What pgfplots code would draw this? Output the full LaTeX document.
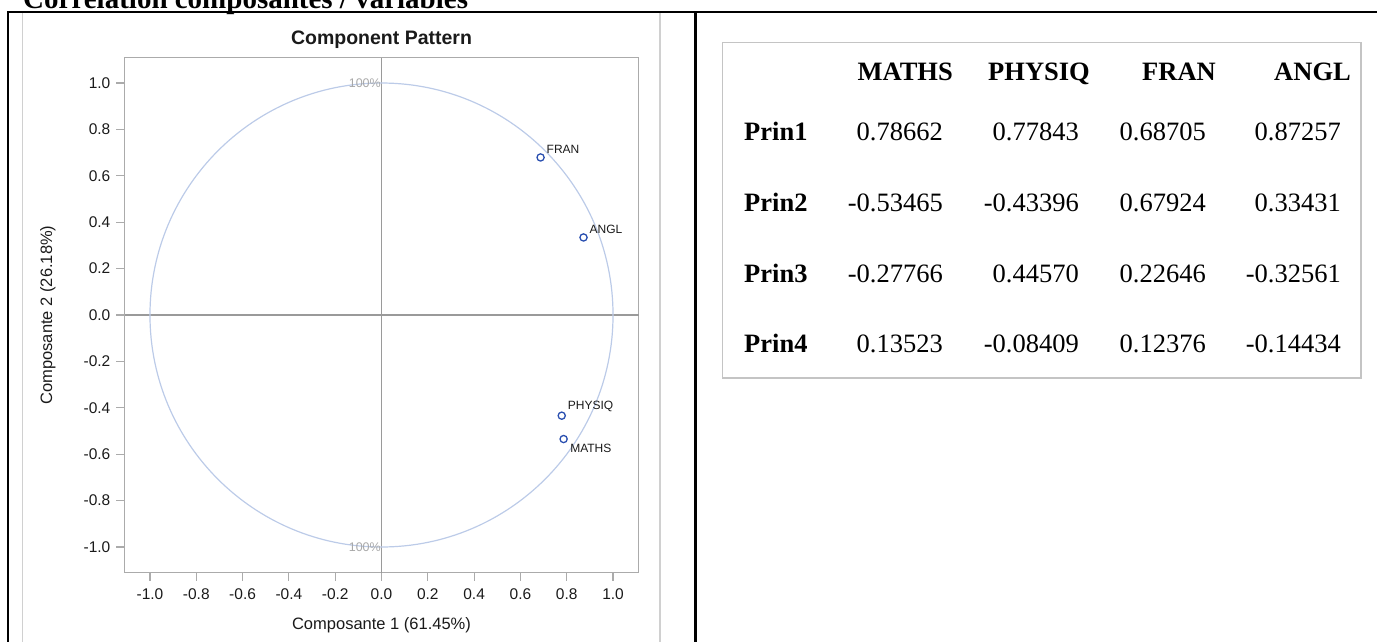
\documentclass[border=0pt]{standalone}
\usepackage{pgfplots}
\pgfplotsset{compat=1.18}
\usepackage{fontspec}
\setmainfont{Liberation Serif}
\newfontfamily\sasfont{Liberation Sans}
\definecolor{axisgray}{HTML}{ABABAB}
\definecolor{refgray}{HTML}{9A9A9A}
\definecolor{circblue}{HTML}{BCCBE8}
\definecolor{markblue}{HTML}{2B50B0}
\definecolor{framegray}{HTML}{D0D0D0}
\definecolor{tablegray}{HTML}{C4C4C4}
\definecolor{pctgray}{HTML}{A8A8A8}
\definecolor{txt}{HTML}{1A1A1A}

\pgfplotstableread{
x y lab
0.68705 0.67924 FRAN
0.87257 0.33431 ANGL
0.77843 -0.43396 PHYSIQ
}\uppertab
\pgfplotstableread{
x y lab
0.78662 -0.53465 MATHS
}\lowertab

\begin{document}
\begin{tikzpicture}
\path[use as bounding box] (0pt,0pt) rectangle (1377pt,-641pt);
% document title (cut at the top)
\node[anchor=base west, inner sep=0pt, font=\bfseries\fontsize{29}{31}\selectfont] at (23pt,-8pt) {Correlation composantes / variables};
% black frame
\draw[black, line width=2.2pt] (8pt,-660pt) -- (8pt,-12pt) -- (1380pt,-12pt);
\draw[black, line width=2.2pt] (695.5pt,-12pt) -- (695.5pt,-660pt);
% graph outer border
\draw[framegray, line width=1.5pt] (22.7pt,-13pt) -- (22.7pt,-660pt);
\draw[framegray, line width=1.5pt] (660pt,-13pt) -- (660pt,-660pt);
% graph title
\node[font=\sasfont\bfseries\fontsize{19.5}{21}\selectfont, text=txt] at (381.5pt,-39.5pt) {Component Pattern};

\begin{axis}[
  at={(124.5pt,-572.5pt)}, anchor=south west,
  scale only axis, width=514pt, height=515pt,
  xmin=-1.11, xmax=1.11, ymin=-1.11, ymax=1.11,
  xtick={-1,-0.8,-0.6,-0.4,-0.2,0,0.2,0.4,0.6,0.8,1},
  ytick={-1,-0.8,-0.6,-0.4,-0.2,0,0.2,0.4,0.6,0.8,1},
  tick pos=left, tick align=outside, major tick length=8pt,
  axis line style={draw=axisgray, line width=1.3pt},
  every tick/.style={draw=axisgray, line width=1.1pt},
  tick label style={font=\sasfont\fontsize{15.5}{16}\selectfont, text=txt},
  /pgf/number format/fixed, /pgf/number format/fixed zerofill,
  /pgf/number format/precision=1, /pgf/number format/assume math mode=true,
  xticklabel style={anchor=center, inner sep=0pt, yshift=-14pt},
  yticklabel style={anchor=east, inner sep=0pt, xshift=-6pt},
  xlabel={Composante 1 (61.45\%)}, ylabel={Composante 2 (26.18\%)},
  every axis x label/.style={at={(axis description cs:0.5,-0.102)}, anchor=center},
  every axis y label/.style={at={(axis description cs:-0.149,0.5)}, anchor=center, rotate=90},
  label style={font=\sasfont\fontsize{16.5}{18}\selectfont, text=txt},
  clip=false,
]
\draw[refgray, line width=1.2pt] (axis cs:0,-1.11) -- (axis cs:0,1.11);
\draw[refgray, line width=1.2pt] (axis cs:-1.11,0) -- (axis cs:1.11,0);
\draw[circblue, line width=1.2pt] (axis cs:0,0) ellipse [x radius=1, y radius=1];
\node[anchor=east, inner sep=0pt, xshift=-0.5pt, text=pctgray, font=\sasfont\fontsize{12.5}{13}\selectfont] at (axis cs:0,1) {100\%};
\node[anchor=east, inner sep=0pt, xshift=-0.5pt, text=pctgray, font=\sasfont\fontsize{12.5}{13}\selectfont] at (axis cs:0,-1) {100\%};
\addplot[only marks, mark=o, mark size=3.6pt, draw=markblue, mark options={line width=1.3pt},
  nodes near coords, point meta=explicit symbolic,
  every node near coord/.style={anchor=south west, inner sep=0pt, xshift=5.5pt, yshift=3pt,
    font=\sasfont\fontsize{12}{12}\selectfont, text=txt}]
  table[x=x, y=y, meta=lab] {\uppertab};
\addplot[only marks, mark=o, mark size=3.6pt, draw=markblue, mark options={line width=1.3pt},
  nodes near coords, point meta=explicit symbolic,
  every node near coord/.style={anchor=north west, inner sep=0pt, xshift=6pt, yshift=-4pt,
    font=\sasfont\fontsize{12}{12}\selectfont, text=txt}]
  table[x=x, y=y, meta=lab] {\lowertab};
\end{axis}

% table on the right
\draw[tablegray, line width=1.6pt] (722.5pt,-42.5pt) rectangle (1361pt,-378pt);
\begin{scope}[every node/.style={inner sep=0pt, font=\fontsize{26.5}{28}\selectfont}]
  \node[anchor=base east, font=\bfseries\fontsize{26.5}{28}\selectfont] at (953pt,-80pt) {MATHS};
  \node[anchor=base east, font=\bfseries\fontsize{26.5}{28}\selectfont] at (1090pt,-80pt) {PHYSIQ};
  \node[anchor=base east, font=\bfseries\fontsize{26.5}{28}\selectfont] at (1216pt,-80pt) {FRAN};
  \node[anchor=base east, font=\bfseries\fontsize{26.5}{28}\selectfont] at (1351pt,-80pt) {ANGL};
  \foreach \lab/\yy/\a/\b/\c/\d in {
     Prin1/140/0.78662/0.77843/0.68705/0.87257,
     Prin2/211/-0.53465/-0.43396/0.67924/0.33431,
     Prin3/282/-0.27766/0.44570/0.22646/-0.32561,
     Prin4/352/0.13523/-0.08409/0.12376/-0.14434} {
    \node[anchor=base west, font=\bfseries\fontsize{26.5}{28}\selectfont] at (744pt,-\yy pt) {\lab};
    \node[anchor=base east] at (943pt,-\yy pt) {\a};
    \node[anchor=base east] at (1079pt,-\yy pt) {\b};
    \node[anchor=base east] at (1206pt,-\yy pt) {\c};
    \node[anchor=base east] at (1341pt,-\yy pt) {\d};
  }
\end{scope}
\end{tikzpicture}
\end{document}
